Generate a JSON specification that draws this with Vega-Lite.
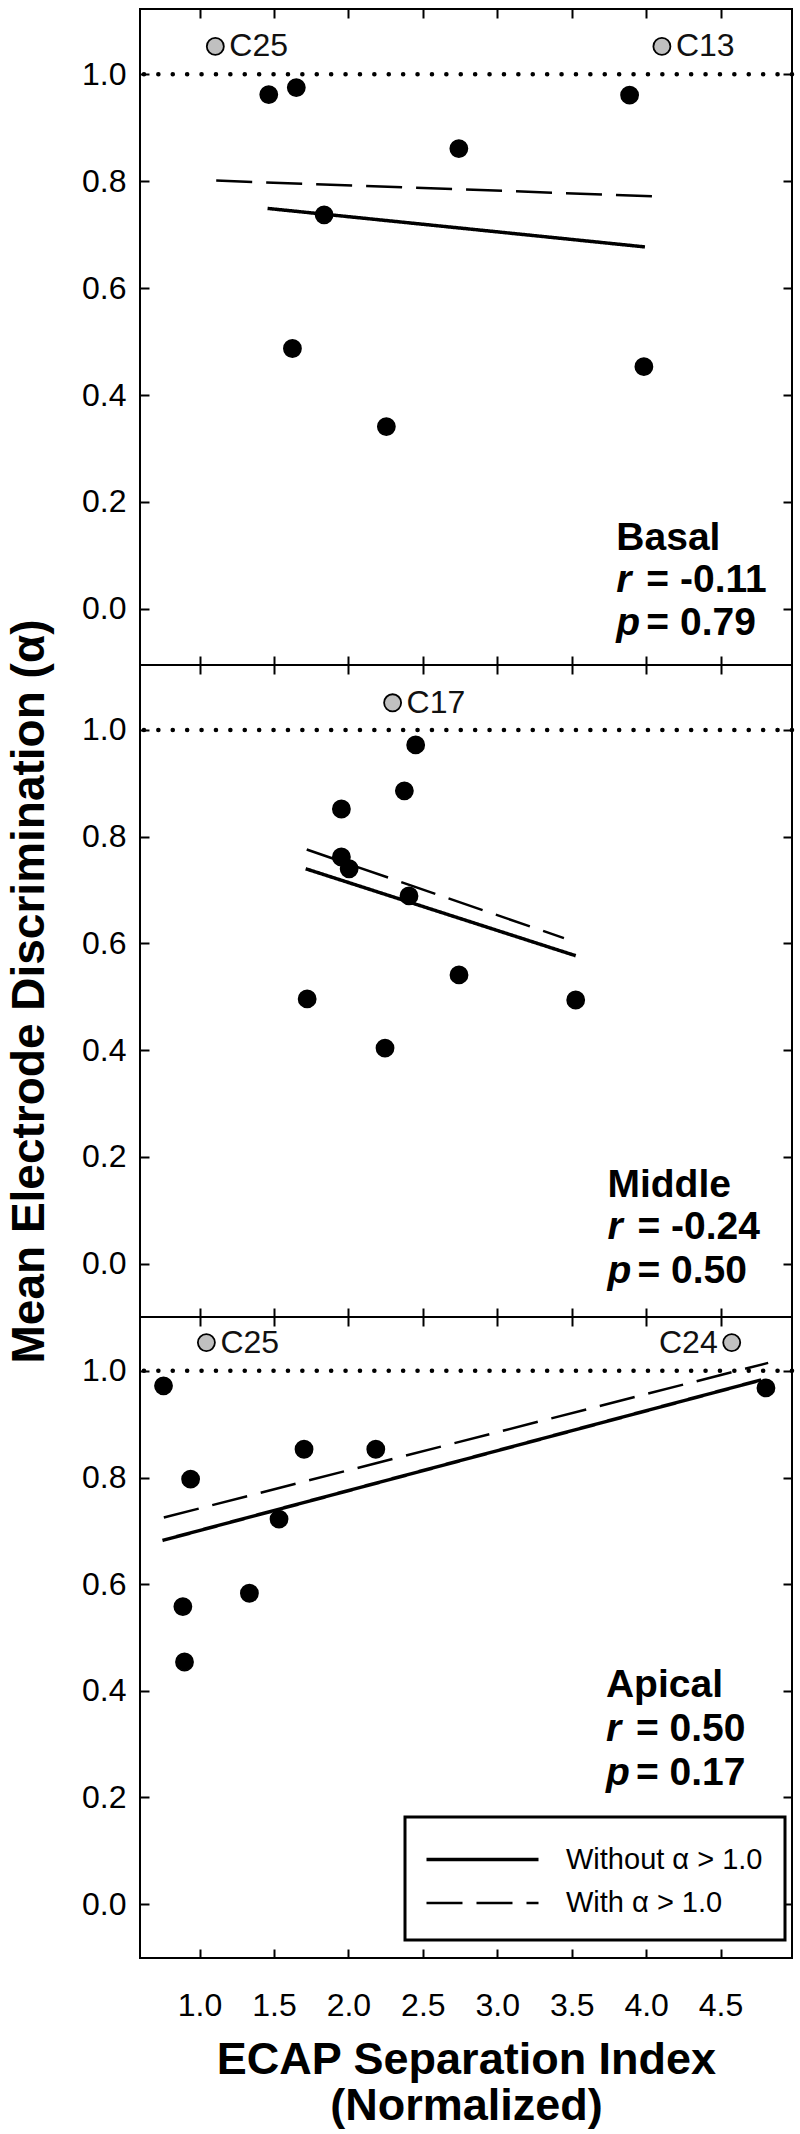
{
  "$schema": "https://vega.github.io/schema/vega-lite/v6.json",
  "background": "white",
  "padding": {"left": 5, "top": 7, "right": 5, "bottom": 0},
  "spacing": 0,
  "bounds": "flush",
  "datasets": {
    "points": [
      {"panel": "Basal", "x": 1.106, "y": 1.052, "kind": "over", "label": "C25"},
      {"panel": "Basal", "x": 4.106, "y": 1.052, "kind": "over", "label": "C13"},
      {"panel": "Basal", "x": 1.465, "y": 0.962, "kind": "under", "label": ""},
      {"panel": "Basal", "x": 1.650, "y": 0.975, "kind": "under", "label": ""},
      {"panel": "Basal", "x": 3.889, "y": 0.961, "kind": "under", "label": ""},
      {"panel": "Basal", "x": 2.742, "y": 0.861, "kind": "under", "label": ""},
      {"panel": "Basal", "x": 1.837, "y": 0.737, "kind": "under", "label": ""},
      {"panel": "Basal", "x": 1.624, "y": 0.487, "kind": "under", "label": ""},
      {"panel": "Basal", "x": 3.985, "y": 0.453, "kind": "under", "label": ""},
      {"panel": "Basal", "x": 2.255, "y": 0.341, "kind": "under", "label": ""},
      {"panel": "Middle", "x": 2.297, "y": 1.051, "kind": "over", "label": "C17"},
      {"panel": "Middle", "x": 2.452, "y": 0.972, "kind": "under", "label": ""},
      {"panel": "Middle", "x": 2.376, "y": 0.886, "kind": "under", "label": ""},
      {"panel": "Middle", "x": 1.953, "y": 0.852, "kind": "under", "label": ""},
      {"panel": "Middle", "x": 1.953, "y": 0.762, "kind": "under", "label": ""},
      {"panel": "Middle", "x": 2.005, "y": 0.740, "kind": "under", "label": ""},
      {"panel": "Middle", "x": 2.407, "y": 0.689, "kind": "under", "label": ""},
      {"panel": "Middle", "x": 2.743, "y": 0.541, "kind": "under", "label": ""},
      {"panel": "Middle", "x": 1.723, "y": 0.496, "kind": "under", "label": ""},
      {"panel": "Middle", "x": 3.527, "y": 0.494, "kind": "under", "label": ""},
      {"panel": "Middle", "x": 2.246, "y": 0.404, "kind": "under", "label": ""},
      {"panel": "Apical", "x": 1.046, "y": 1.053, "kind": "over", "label": "C25"},
      {"panel": "Apical", "x": 4.575, "y": 1.053, "kind": "over", "label": "C24"},
      {"panel": "Apical", "x": 0.758, "y": 0.972, "kind": "under", "label": ""},
      {"panel": "Apical", "x": 0.940, "y": 0.797, "kind": "under", "label": ""},
      {"panel": "Apical", "x": 0.888, "y": 0.558, "kind": "under", "label": ""},
      {"panel": "Apical", "x": 0.899, "y": 0.454, "kind": "under", "label": ""},
      {"panel": "Apical", "x": 1.335, "y": 0.583, "kind": "under", "label": ""},
      {"panel": "Apical", "x": 1.534, "y": 0.722, "kind": "under", "label": ""},
      {"panel": "Apical", "x": 1.702, "y": 0.853, "kind": "under", "label": ""},
      {"panel": "Apical", "x": 2.184, "y": 0.853, "kind": "under", "label": ""},
      {"panel": "Apical", "x": 4.805, "y": 0.968, "kind": "under", "label": ""}
    ],
    "fits": [
      {"panel": "Basal", "fit": "Without α > 1.0", "x": 1.457, "y": 0.749},
      {"panel": "Basal", "fit": "Without α > 1.0", "x": 3.992, "y": 0.677},
      {"panel": "Basal", "fit": "With α > 1.0", "x": 1.112, "y": 0.801},
      {"panel": "Basal", "fit": "With α > 1.0", "x": 4.123, "y": 0.771},
      {"panel": "Middle", "fit": "Without α > 1.0", "x": 1.713, "y": 0.740},
      {"panel": "Middle", "fit": "Without α > 1.0", "x": 3.527, "y": 0.577},
      {"panel": "Middle", "fit": "With α > 1.0", "x": 1.720, "y": 0.776},
      {"panel": "Middle", "fit": "With α > 1.0", "x": 3.448, "y": 0.610},
      {"panel": "Apical", "fit": "Without α > 1.0", "x": 0.751, "y": 0.682},
      {"panel": "Apical", "fit": "Without α > 1.0", "x": 4.773, "y": 0.983},
      {"panel": "Apical", "fit": "With α > 1.0", "x": 0.760, "y": 0.725},
      {"panel": "Apical", "fit": "With α > 1.0", "x": 4.820, "y": 1.015}
    ],
    "refs": [{"y": 1.0}],
    "notes": [
      {"panel": "Basal", "role": "name", "x": 3.80, "y": 0.110, "text": "Basal"},
      {"panel": "Basal", "role": "var", "x": 3.80, "y": 0.031, "text": "r"},
      {"panel": "Basal", "role": "stat", "x": 3.80, "y": 0.031, "text": "= -0.11"},
      {"panel": "Basal", "role": "var", "x": 3.80, "y": -0.049, "text": "p"},
      {"panel": "Basal", "role": "stat", "x": 3.80, "y": -0.049, "text": "= 0.79"},
      {"panel": "Middle", "role": "name", "x": 3.74, "y": 0.125, "text": "Middle"},
      {"panel": "Middle", "role": "var", "x": 3.74, "y": 0.046, "text": "r"},
      {"panel": "Middle", "role": "stat", "x": 3.74, "y": 0.046, "text": "= -0.24"},
      {"panel": "Middle", "role": "var", "x": 3.74, "y": -0.036, "text": "p"},
      {"panel": "Middle", "role": "stat", "x": 3.74, "y": -0.036, "text": "= 0.50"},
      {"panel": "Apical", "role": "name", "x": 3.73, "y": 0.388, "text": "Apical"},
      {"panel": "Apical", "role": "var", "x": 3.73, "y": 0.305, "text": "r"},
      {"panel": "Apical", "role": "stat", "x": 3.73, "y": 0.305, "text": "= 0.50"},
      {"panel": "Apical", "role": "var", "x": 3.73, "y": 0.223, "text": "p"},
      {"panel": "Apical", "role": "stat", "x": 3.73, "y": 0.223, "text": "= 0.17"}
    ]
  },
  "vconcat": [
    {
      "width": 652, "height": 656,
      "layer": [
        {"data": {"name": "refs"}, "mark": {"type": "rule", "color": "black", "strokeWidth": 4.5, "strokeDash": [0.1, 14.3], "strokeCap": "round"},
         "encoding": {"y": {"field": "y", "type": "quantitative", "scale": {"domain": [-0.105, 1.122], "nice": false, "zero": false}, "axis": null}}},
        {"data": {"name": "fits"}, "transform": [{"filter": "datum.panel === 'Basal'"}],
         "mark": {"type": "line", "color": "black"},
         "encoding": {
           "x": {"field": "x", "type": "quantitative", "scale": {"domain": [0.6, 4.98], "nice": false, "zero": false}, "axis": {"orient": "top", "values": [1, 1.5, 2, 2.5, 3, 3.5, 4, 4.5], "labels": false, "title": null}},
           "y": {"field": "y", "type": "quantitative", "axis": {"orient": "right", "values": [0, 0.2, 0.4, 0.6, 0.8, 1], "labels": false, "title": null}},
           "strokeDash": {"field": "fit", "type": "nominal", "scale": {"domain": ["Without α > 1.0", "With α > 1.0"], "range": [[1, 0], [36, 14]]}, "legend": null},
           "strokeWidth": {"field": "fit", "type": "nominal", "scale": {"domain": ["Without α > 1.0", "With α > 1.0"], "range": [3.5, 2.5]}, "legend": null}
         }},
        {"data": {"name": "points"}, "transform": [{"filter": "datum.panel === 'Basal'"}],
         "mark": {"type": "circle", "size": 290, "stroke": "black", "strokeWidth": 1.8, "opacity": 1},
         "encoding": {
           "x": {"field": "x", "type": "quantitative", "axis": {"orient": "bottom", "values": [1, 1.5, 2, 2.5, 3, 3.5, 4, 4.5], "labels": false, "title": null}},
           "y": {"field": "y", "type": "quantitative", "axis": {"orient": "left", "values": [0, 0.2, 0.4, 0.6, 0.8, 1], "format": ".1f", "labelPadding": 23, "title": null}},
           "fill": {"field": "kind", "type": "nominal", "scale": {"domain": ["under", "over"], "range": ["black", "#c0c0c0"]}, "legend": null}
         }},
        {"data": {"name": "points"}, "transform": [{"filter": "datum.panel === 'Basal' && datum.kind === 'over'"}],
         "mark": {"type": "text", "align": "left", "baseline": "middle", "dx": 14, "fontSize": 32, "font": "Liberation Sans", "color": "#111"},
         "encoding": {"x": {"field": "x", "type": "quantitative", "axis": null}, "y": {"field": "y", "type": "quantitative", "axis": null}, "text": {"field": "label"}}},
        {"data": {"name": "notes"}, "transform": [{"filter": "datum.panel === 'Basal' && datum.role === 'name'"}],
         "mark": {"type": "text", "align": "left", "baseline": "alphabetic", "fontSize": 39, "fontWeight": "bold", "font": "Liberation Sans", "color": "black"},
         "encoding": {"x": {"field": "x", "type": "quantitative", "axis": null}, "y": {"field": "y", "type": "quantitative", "axis": null}, "text": {"field": "text"}}},
        {"data": {"name": "notes"}, "transform": [{"filter": "datum.panel === 'Basal' && datum.role === 'var'"}],
         "mark": {"type": "text", "align": "left", "baseline": "alphabetic", "fontSize": 39, "fontWeight": "bold", "fontStyle": "italic", "font": "Liberation Sans", "color": "black"},
         "encoding": {"x": {"field": "x", "type": "quantitative", "axis": null}, "y": {"field": "y", "type": "quantitative", "axis": null}, "text": {"field": "text"}}},
        {"data": {"name": "notes"}, "transform": [{"filter": "datum.panel === 'Basal' && datum.role === 'stat'"}],
         "mark": {"type": "text", "align": "left", "baseline": "alphabetic", "dx": 30, "fontSize": 39, "fontWeight": "bold", "font": "Liberation Sans", "color": "black"},
         "encoding": {"x": {"field": "x", "type": "quantitative", "axis": null}, "y": {"field": "y", "type": "quantitative", "axis": null}, "text": {"field": "text"}}}
      ],
      "resolve": {"axis": {"x": "independent", "y": "independent"}}
    },
    {
      "width": 652, "height": 652,
      "layer": [
        {"data": {"name": "refs"}, "mark": {"type": "rule", "color": "black", "strokeWidth": 4.5, "strokeDash": [0.1, 14.3], "strokeCap": "round"},
         "encoding": {"y": {"field": "y", "type": "quantitative", "scale": {"domain": [-0.1, 1.1218], "nice": false, "zero": false}, "axis": null}}},
        {"data": {"name": "fits"}, "transform": [{"filter": "datum.panel === 'Middle'"}],
         "mark": {"type": "line", "color": "black"},
         "encoding": {
           "x": {"field": "x", "type": "quantitative", "scale": {"domain": [0.6, 4.98], "nice": false, "zero": false}, "axis": {"orient": "top", "values": [1, 1.5, 2, 2.5, 3, 3.5, 4, 4.5], "labels": false, "title": null}},
           "y": {"field": "y", "type": "quantitative", "axis": {"orient": "right", "values": [0, 0.2, 0.4, 0.6, 0.8, 1], "labels": false, "title": null}},
           "strokeDash": {"field": "fit", "type": "nominal", "scale": {"domain": ["Without α > 1.0", "With α > 1.0"], "range": [[1, 0], [36, 14]]}, "legend": null},
           "strokeWidth": {"field": "fit", "type": "nominal", "scale": {"domain": ["Without α > 1.0", "With α > 1.0"], "range": [3.5, 2.5]}, "legend": null}
         }},
        {"data": {"name": "points"}, "transform": [{"filter": "datum.panel === 'Middle'"}],
         "mark": {"type": "circle", "size": 290, "stroke": "black", "strokeWidth": 1.8, "opacity": 1},
         "encoding": {
           "x": {"field": "x", "type": "quantitative", "axis": {"orient": "bottom", "values": [1, 1.5, 2, 2.5, 3, 3.5, 4, 4.5], "labels": false, "title": null}},
           "y": {"field": "y", "type": "quantitative", "axis": {"orient": "left", "values": [0, 0.2, 0.4, 0.6, 0.8, 1], "format": ".1f", "labelPadding": 23, "title": "Mean Electrode Discrimination (α)", "titlePadding": 28}},
           "fill": {"field": "kind", "type": "nominal", "scale": {"domain": ["under", "over"], "range": ["black", "#c0c0c0"]}, "legend": null}
         }},
        {"data": {"name": "points"}, "transform": [{"filter": "datum.panel === 'Middle' && datum.kind === 'over'"}],
         "mark": {"type": "text", "align": "left", "baseline": "middle", "dx": 14, "fontSize": 32, "font": "Liberation Sans", "color": "#111"},
         "encoding": {"x": {"field": "x", "type": "quantitative", "axis": null}, "y": {"field": "y", "type": "quantitative", "axis": null}, "text": {"field": "label"}}},
        {"data": {"name": "notes"}, "transform": [{"filter": "datum.panel === 'Middle' && datum.role === 'name'"}],
         "mark": {"type": "text", "align": "left", "baseline": "alphabetic", "fontSize": 39, "fontWeight": "bold", "font": "Liberation Sans", "color": "black"},
         "encoding": {"x": {"field": "x", "type": "quantitative", "axis": null}, "y": {"field": "y", "type": "quantitative", "axis": null}, "text": {"field": "text"}}},
        {"data": {"name": "notes"}, "transform": [{"filter": "datum.panel === 'Middle' && datum.role === 'var'"}],
         "mark": {"type": "text", "align": "left", "baseline": "alphabetic", "fontSize": 39, "fontWeight": "bold", "fontStyle": "italic", "font": "Liberation Sans", "color": "black"},
         "encoding": {"x": {"field": "x", "type": "quantitative", "axis": null}, "y": {"field": "y", "type": "quantitative", "axis": null}, "text": {"field": "text"}}},
        {"data": {"name": "notes"}, "transform": [{"filter": "datum.panel === 'Middle' && datum.role === 'stat'"}],
         "mark": {"type": "text", "align": "left", "baseline": "alphabetic", "dx": 30, "fontSize": 39, "fontWeight": "bold", "font": "Liberation Sans", "color": "black"},
         "encoding": {"x": {"field": "x", "type": "quantitative", "axis": null}, "y": {"field": "y", "type": "quantitative", "axis": null}, "text": {"field": "text"}}}
      ],
      "resolve": {"axis": {"x": "independent", "y": "independent"}}
    },
    {
      "width": 652, "height": 641,
      "layer": [
        {"data": {"name": "refs"}, "mark": {"type": "rule", "color": "black", "strokeWidth": 4.5, "strokeDash": [0.1, 14.3], "strokeCap": "round"},
         "encoding": {"y": {"field": "y", "type": "quantitative", "scale": {"domain": [-0.101, 1.101], "nice": false, "zero": false}, "axis": null}}},
        {"data": {"name": "fits"}, "transform": [{"filter": "datum.panel === 'Apical'"}],
         "mark": {"type": "line", "color": "black"},
         "encoding": {
           "x": {"field": "x", "type": "quantitative", "scale": {"domain": [0.6, 4.98], "nice": false, "zero": false}, "axis": {"orient": "top", "values": [1, 1.5, 2, 2.5, 3, 3.5, 4, 4.5], "labels": false, "title": null}},
           "y": {"field": "y", "type": "quantitative", "axis": {"orient": "right", "values": [0, 0.2, 0.4, 0.6, 0.8, 1], "labels": false, "title": null}},
           "strokeDash": {"field": "fit", "type": "nominal", "scale": {"domain": ["Without α > 1.0", "With α > 1.0"], "range": [[1, 0], [36, 14]]},
             "legend": {"orient": "none", "legendX": 265, "legendY": 500, "title": null, "symbolType": "M-3,0H3", "symbolSize": 1394, "symbolOffset": 35, "symbolStrokeWidth": 3, "symbolStrokeColor": "black", "labelFont": "Liberation Sans", "labelFontSize": 29, "labelColor": "black", "labelOffset": 63, "labelLimit": 400, "padding": 22, "rowPadding": 8, "strokeColor": "black", "fillColor": "white",
               "encode": {"legend": {"update": {"strokeWidth": {"value": 3}}}}}},
           "strokeWidth": {"field": "fit", "type": "nominal", "scale": {"domain": ["Without α > 1.0", "With α > 1.0"], "range": [3.5, 2.5]}, "legend": null}
         }},
        {"data": {"name": "points"}, "transform": [{"filter": "datum.panel === 'Apical'"}],
         "mark": {"type": "circle", "size": 290, "stroke": "black", "strokeWidth": 1.8, "opacity": 1},
         "encoding": {
           "x": {"field": "x", "type": "quantitative", "axis": {"orient": "bottom", "values": [1, 1.5, 2, 2.5, 3, 3.5, 4, 4.5], "format": ".1f", "labelPadding": 41, "title": ["ECAP Separation Index", "(Normalized)"], "titlePadding": 16, "titleFontSize": 45, "titleLineHeight": 46}},
           "y": {"field": "y", "type": "quantitative", "axis": {"orient": "left", "values": [0, 0.2, 0.4, 0.6, 0.8, 1], "format": ".1f", "labelPadding": 23, "title": null}},
           "fill": {"field": "kind", "type": "nominal", "scale": {"domain": ["under", "over"], "range": ["black", "#c0c0c0"]}, "legend": null}
         }},
        {"data": {"name": "points"}, "transform": [{"filter": "datum.panel === 'Apical' && datum.kind === 'over' && datum.label !== 'C24'"}],
         "mark": {"type": "text", "align": "left", "baseline": "middle", "dx": 14, "fontSize": 32, "font": "Liberation Sans", "color": "#111"},
         "encoding": {"x": {"field": "x", "type": "quantitative", "axis": null}, "y": {"field": "y", "type": "quantitative", "axis": null}, "text": {"field": "label"}}},
        {"data": {"name": "points"}, "transform": [{"filter": "datum.panel === 'Apical' && datum.label === 'C24'"}],
         "mark": {"type": "text", "align": "right", "baseline": "middle", "dx": -14, "fontSize": 32, "font": "Liberation Sans", "color": "#111"},
         "encoding": {"x": {"field": "x", "type": "quantitative", "axis": null}, "y": {"field": "y", "type": "quantitative", "axis": null}, "text": {"field": "label"}}},
        {"data": {"name": "notes"}, "transform": [{"filter": "datum.panel === 'Apical' && datum.role === 'name'"}],
         "mark": {"type": "text", "align": "left", "baseline": "alphabetic", "fontSize": 39, "fontWeight": "bold", "font": "Liberation Sans", "color": "black"},
         "encoding": {"x": {"field": "x", "type": "quantitative", "axis": null}, "y": {"field": "y", "type": "quantitative", "axis": null}, "text": {"field": "text"}}},
        {"data": {"name": "notes"}, "transform": [{"filter": "datum.panel === 'Apical' && datum.role === 'var'"}],
         "mark": {"type": "text", "align": "left", "baseline": "alphabetic", "fontSize": 39, "fontWeight": "bold", "fontStyle": "italic", "font": "Liberation Sans", "color": "black"},
         "encoding": {"x": {"field": "x", "type": "quantitative", "axis": null}, "y": {"field": "y", "type": "quantitative", "axis": null}, "text": {"field": "text"}}},
        {"data": {"name": "notes"}, "transform": [{"filter": "datum.panel === 'Apical' && datum.role === 'stat'"}],
         "mark": {"type": "text", "align": "left", "baseline": "alphabetic", "dx": 30, "fontSize": 39, "fontWeight": "bold", "font": "Liberation Sans", "color": "black"},
         "encoding": {"x": {"field": "x", "type": "quantitative", "axis": null}, "y": {"field": "y", "type": "quantitative", "axis": null}, "text": {"field": "text"}}}
      ],
      "resolve": {"axis": {"x": "independent", "y": "independent"}}
    }
  ],
  "resolve": {
    "scale": {"x": "independent", "y": "independent", "strokeDash": "independent", "strokeWidth": "independent", "fill": "independent"},
    "legend": {"strokeDash": "independent", "strokeWidth": "independent", "fill": "independent"}
  },
  "config": {
    "view": {"stroke": "black", "strokeWidth": 2},
    "axis": {"grid": false, "domain": false, "ticks": true, "tickSize": -9, "tickWidth": 2, "tickColor": "black",
      "labelFont": "Liberation Sans", "labelFontSize": 32, "labelColor": "black",
      "titleFont": "Liberation Sans", "titleFontSize": 46, "titleFontWeight": "bold", "titleColor": "black"},
    "text": {"font": "Liberation Sans"}
  }
}
